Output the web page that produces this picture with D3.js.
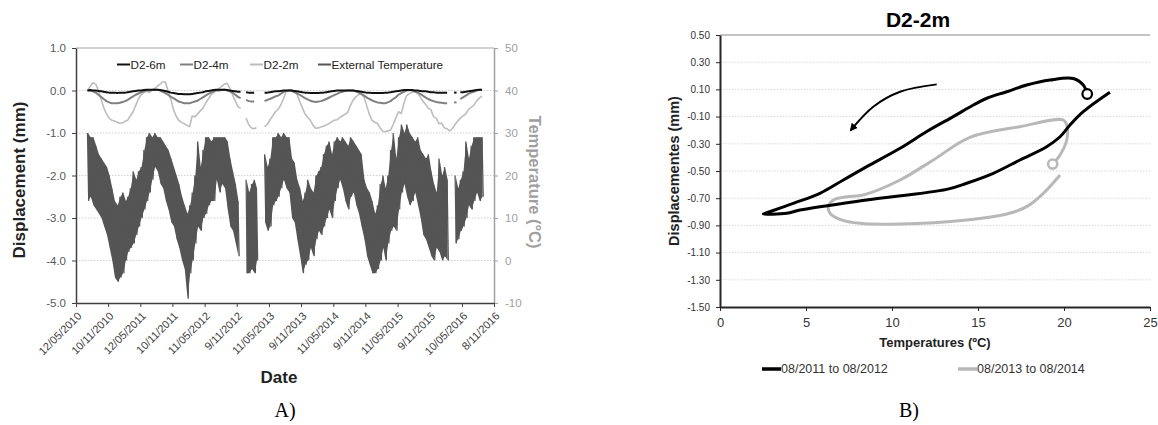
<!DOCTYPE html>
<html><head><meta charset="utf-8">
<script src="https://cdn.jsdelivr.net/npm/d3@7"></script>
<style>
body{margin:0;background:#fff}
svg{display:block}
text{font-family:"Liberation Sans",Arial,sans-serif}
</style>
</head><body>
<svg id="c" width="1158" height="425"></svg>
<script>
// ================= DATA : chart A =================
const xTickLabels = ["12/05/2010","10/11/2010","12/05/2011","10/11/2011","11/05/2012","9/11/2012","11/05/2013","9/11/2013","11/05/2014","9/11/2014","11/05/2015","9/11/2015","10/05/2016","8/11/2016"];
const dispTicks = [1,0,-1,-2,-3,-4,-5];
const tempTicks = [50,40,30,20,10,0,-10];
const seriesNamesA = ["D2-6m","D2-4m","D2-2m","External Temperature"];

// half-month samples from 16/07/2010 to 01/09/2016 (1st and 16th of each month)
const tempHi = [
  30, 29,29, 27,25, 24,23, 22,20, 17,14,
  13,15, 16,14, 15,17, 21,19, 21,22, 26,29, 30,29, 30,29, 29,28, 27,26, 24,22, 20,18,
  15,13, 11,13, 16,20, 28,22, 26,29, 29,28, 29,29, 29,29, 29,28, 24,21, 18,14, null,null,
  19,16, 18,19, 17,null, null,25, 22,24, 29,29, 30,29, 30,29, 29,24, 23,19, 17,14, 16,19,
  17,16, 20,21, 22,25, 27,28, 25,28, 29,28, 29,28, 27,29, 28,27, 26,25, 19,17, 16,14,
  11,13, 18,20, 17,20, 26,30, 24,29, 32,30, 32,30, 29,28, 29,26, 25,24, 25,21, 18,16,
  24,20, 22,19, null,null, 20,17, 19,21, 28,24, 27,29, 29,29, 29
];
const tempLo = [
  14, 15,13, 12,11, 10,8, 6,3, 0,-4,
  -5,-4, -3,0, 2,3, 4,6, 8,10, 12,14, 16,19, 22,21, 18,17, 14,12, 9,8, 5,3,
  0,-2, -9,-3, 0,4, 8,7, 10,11, 13,14, 14,19, 16,18, 17,12, 8,7, 4,1, null,null,
  -3,-3, -2,-3, 0,null, null,9, 7,8, 13,14, 15,17, 19,17, 16,10, 9,5, 1,-3, -1,0,
  3,1, 5,7, 6,8, 10,12, 10,14, 17,19, 17,14, 12,15, 16,13, 11,8, 5,1, -1,-3,
  -3,-2, 0,3, 0,4, 7,8, 7,12, 16,18, 15,13, 14,16, 13,10, 6,5, 3,1, 0,3,
  2,0, 1,0, null,null, 4,5, 7,8, 10,13, 12,14, 16,14, 15
];
const d2_6m = [
  0.0, 0.01,0.0, 0.0,-0.01, -0.02,-0.03, -0.04,-0.05, -0.05,-0.05,
  -0.06,-0.05, -0.05,-0.05, -0.04,-0.03, -0.02,-0.01, 0.0,0.0, 0.01,0.02, 0.02,0.02, 0.02,0.02, 0.01,0.0, -0.01,-0.03, -0.05,-0.06, -0.07,-0.08,
  -0.08,-0.09, -0.09,-0.09, -0.08,-0.07, -0.06,-0.05, -0.04,-0.02, -0.01,0.0, 0.01,0.02, 0.02,0.02, 0.02,0.01, 0.0,-0.01, -0.02,-0.03, -0.03,null,
  -0.04,-0.05, -0.05,-0.05, null,null, null,-0.05, -0.05,-0.04, -0.03,-0.02, -0.02,-0.01, 0.0,0.0, 0.0,0.0, -0.01,-0.02, -0.03,-0.04, -0.05,-0.05,
  -0.06,-0.06, -0.06,-0.06, -0.05,-0.05, -0.04,-0.03, -0.02,-0.01, 0.0,0.0, 0.0,0.0, 0.0,0.0, 0.0,-0.01, -0.02,-0.03, -0.04,-0.05, -0.05,-0.06,
  -0.06,-0.06, -0.06,-0.06, -0.05,-0.05, -0.04,-0.03, -0.02,-0.01, 0.0,0.01, 0.01,0.01, 0.01,0.0, 0.0,-0.01, -0.02,-0.02, -0.03,-0.04, -0.04,-0.05,
  -0.05,-0.05, -0.05,-0.05, null,null, -0.05,null, -0.04,-0.04, -0.03,-0.02, -0.01,0.0, 0.01,0.02, 0.02
];
const d2_4m = [
  0.0, 0.0,-0.02, -0.05,-0.1, -0.15,-0.2, -0.25,-0.28, -0.3,-0.3,
  -0.3,-0.29, -0.27,-0.25, -0.22,-0.18, -0.14,-0.1, -0.07,-0.04, -0.02,0.0, 0.0,0.01, 0.02,0.02, 0.0,-0.03, -0.06,-0.1, -0.15,-0.18, -0.22,-0.26,
  -0.28,-0.3, -0.3,-0.3, -0.28,-0.26, -0.24,-0.2, -0.16,-0.12, -0.08,-0.05, -0.02,0.0, 0.0,0.01, 0.02,0.0, -0.02,-0.05, -0.1,-0.15, -0.18,null,
  -0.22,-0.25, -0.26,-0.26, null,null, null,-0.25, -0.22,-0.2, -0.17,-0.14, -0.12,-0.08, -0.04,-0.01, 0.0,0.0, -0.03,-0.06, -0.1,-0.14, -0.18,-0.21,
  -0.24,-0.26, -0.27,-0.26, -0.25,-0.23, -0.2,-0.17, -0.14,-0.11, -0.08,-0.05, -0.03,-0.01, 0.0,0.0, 0.0,-0.02, -0.05,-0.08, -0.12,-0.16, -0.2,-0.23,
  -0.26,-0.28, -0.29,-0.3, -0.3,-0.28, -0.25,-0.2, -0.16,-0.1, -0.06,-0.03, 0.0,0.01, 0.0,-0.02, -0.05,-0.08, -0.12,-0.16, -0.2,-0.23, -0.25,-0.27,
  -0.28,-0.29, -0.3,-0.3, null,null, -0.28,null, -0.2,-0.16, -0.12,-0.08, -0.05,-0.03, 0.0,0.01, 0.02
];
const d2_2m = [
  0.0, 0.1,0.18, 0.15,0.0, -0.2,-0.4, -0.55,-0.65, -0.7,-0.72,
  -0.75,-0.77, -0.76,-0.72, -0.7,-0.6, -0.5,-0.35, -0.2,-0.1, -0.05,-0.02, -0.05,0.0, 0.05,0.1, 0.15,0.2, 0.2,0.0, -0.2,-0.45, -0.6,-0.7,
  -0.75,-0.78, -0.82,-0.85, -0.6,-0.62, -0.55,-0.48, -0.42,-0.3, -0.2,-0.1, -0.05,0.0, 0.05,0.1, 0.15,0.17, 0.05,-0.1, -0.25,-0.38, -0.42,null,
  -0.65,-0.8, -0.88,-0.9, -0.87,null, null,-0.85, -0.8,-0.7, -0.6,-0.5, -0.45,-0.35, -0.2,-0.03, 0.01,-0.02, -0.05,-0.08, -0.25,-0.4, -0.55,-0.63,
  -0.7,-0.82, -0.89,-0.88, -0.86,-0.84, -0.81,-0.78, -0.74,-0.7, -0.69,-0.64, -0.6,-0.56, -0.52,-0.35, -0.22,-0.15, -0.1,-0.07, -0.15,-0.35, -0.55,-0.7,
  -0.75,-0.77, -0.88,-0.96, -0.97,-0.95, -0.93,-0.8, -0.65,-0.5, -0.54,-0.3, -0.12,-0.08, -0.04,-0.03, -0.06,-0.15, -0.25,-0.32, -0.42,-0.45, -0.62,-0.65,
  -0.78,-0.77, -0.88,-0.9, -0.95,-0.9, -0.8,-0.72, -0.65,-0.6, -0.55,-0.45, -0.4,-0.35, -0.25,-0.18, -0.13
];

// ================= DATA : chart B =================
const titleB = "D2-2m";
const xTicksB = [0,5,10,15,20,25];
const yTicksB = [0.5,0.3,0.1,-0.1,-0.3,-0.5,-0.7,-0.9,-1.1,-1.3,-1.5];
const seriesNamesB = ["08/2011 to 08/2012","08/2013 to 08/2014"];
const loop1T = [21.35,21.12,20.54,19.19,17.83,16.67,15.51,14.73,13.56,12.02,10.47,8.53,7.17,5.81,4.26,2.72,2.52,3.88,4.65,8.53,13.18,14.34,15.89,17.44,18.99,19.77,20.35,21.12,22.67];
const loop1D = [0.066,0.132,0.18,0.169,0.132,0.083,0.035,-0.015,-0.10,-0.21,-0.333,-0.468,-0.566,-0.664,-0.738,-0.807,-0.816,-0.811,-0.787,-0.713,-0.635,-0.59,-0.517,-0.419,-0.321,-0.248,-0.162,-0.064,0.079];
const loop2T = [19.34,19.77,20.16,20.17,19.96,17.44,14.53,12.4,10.47,8.33,7.37,6.59,6.3,6.4,6.98,8.14,10.47,14.34,16.67,17.83,18.8,19.77];
const loop2D = [-0.449,-0.382,-0.272,-0.169,-0.125,-0.174,-0.252,-0.419,-0.566,-0.676,-0.689,-0.713,-0.762,-0.811,-0.855,-0.885,-0.89,-0.86,-0.816,-0.762,-0.664,-0.529];
const arrowT = [12.6,10.47,8.91,7.6];
const arrowD = [0.137,0.083,-0.027,-0.2];

// ================= DRAW =================
const svg = d3.select("#c");
svg.append("rect").attr("width",1158).attr("height",425).attr("fill","#fff");
const FF = "Liberation Sans, Arial, sans-serif";

// ---------- chart A ----------
const parse = d3.timeParse("%d/%m/%Y");
const tickDates = xTickLabels.map(parse);
const slotDates = [];
for (let y=2010; y<=2016; y++) for (let m=0; m<12; m++) for (const d of [1,16]) {
  const dt = new Date(y,m,d);
  if (dt >= new Date(2010,6,16) && dt <= new Date(2016,8,1)) slotDates.push(dt);
}
const xA = d3.scaleTime().domain([tickDates[0], tickDates[tickDates.length-1]]).range([76,494]);
const yA = d3.scaleLinear().domain([-5,1]).range([303,48]);
const yT = d3.scaleLinear().domain([-10,50]).range([303,48]);

const gA = svg.append("g");
gA.selectAll("line.grid").data(dispTicks.filter(d=>d>-5 && d<1)).join("line")
  .attr("x1",76).attr("x2",494).attr("y1",d=>yA(d)).attr("y2",d=>yA(d))
  .attr("stroke","#d0d0d0").attr("stroke-dasharray","1.5,1.5");
gA.append("line").attr("x1",76).attr("x2",494).attr("y1",yA(1)).attr("y2",yA(1)).attr("stroke","#a6a6a6").attr("stroke-width",1.2);

// left axis
const axL = gA.append("g").attr("transform","translate(76,0)")
  .call(d3.axisLeft(yA).tickValues(dispTicks).tickFormat(d=>d.toFixed(1)).tickSize(4).tickSizeOuter(0).tickPadding(6));
axL.select(".domain").attr("stroke","#404040").attr("stroke-width",1.5);
axL.selectAll(".tick line").attr("stroke","#404040");
axL.selectAll("text").attr("font-size","11.5px").attr("fill","#595959").style("font-family",FF);

// right axis
const axR = gA.append("g").attr("transform","translate(494,0)")
  .call(d3.axisRight(yT).tickValues(tempTicks).tickFormat(d=>String(d)).tickSize(4).tickSizeOuter(0).tickPadding(7));
axR.select(".domain").attr("stroke","#a0a0a0").attr("stroke-width",1.5);
axR.selectAll(".tick line").attr("stroke","#a0a0a0");
axR.selectAll("text").attr("font-size","11.5px").attr("fill","#a0a0a0").style("font-family",FF);

// bottom axis
const axB = gA.append("g").attr("transform","translate(0,303)")
  .call(d3.axisBottom(xA).tickValues(tickDates).tickFormat((d,i)=>xTickLabels[i]).tickSize(4).tickSizeOuter(0));
axB.select(".domain").attr("stroke","#404040").attr("stroke-width",1.5);
axB.selectAll(".tick line").attr("stroke","#404040");
axB.selectAll("text").attr("font-size","11px").attr("fill","#404040")
  .attr("x",0).attr("y",0).attr("dy","0.35em").attr("text-anchor","end")
  .attr("transform","translate(3,11) rotate(-45)")
  .style("font-family",FF);

// displacement series
const lineA = d3.line().defined(p=>p.v!=null).x(p=>xA(p.t)).y(p=>yA(p.v));
function seriesPts(arr){ return slotDates.map((t,i)=>({t, v: arr[i]})); }
const dispSeries = [
  {arr:d2_2m, color:"#bdbdbd", w:1.6},
  {arr:d2_4m, color:"#808080", w:2},
  {arr:d2_6m, color:"#111111", w:2}
];
dispSeries.forEach(s=>{
  const pts = seriesPts(s.arr);
  gA.append("path").attr("d",lineA(pts)).attr("fill","none").attr("stroke",s.color).attr("stroke-width",s.w).attr("stroke-linejoin","round");
  pts.forEach((p,i)=>{
    if (p.v!=null && (i===0 || pts[i-1].v==null) && (i===pts.length-1 || pts[i+1].v==null)) {
      gA.append("line").attr("x1",xA(p.t)-1).attr("x2",xA(p.t)+1.5).attr("y1",yA(p.v)).attr("y2",yA(p.v))
        .attr("stroke",s.color).attr("stroke-width",s.w);
    }
  });
});

// temperature: band between half-month highs and lows, plus zigzag trace for the spikes
const tempBand = slotDates.map((t,i)=>({t: d3.timeDay.offset(t,3), hi: tempHi[i], lo: tempLo[i]}));
const areaT = d3.area().defined(p=>p.hi!=null && p.lo!=null)
  .x(p=>xA(p.t)).y0(p=>yT(p.lo)).y1(p=>yT(p.hi));
gA.append("path").attr("d",areaT(tempBand)).attr("fill","#555555");
const tempPts = [];
slotDates.forEach((t,i)=>{
  tempPts.push({t, v: tempHi[i]});
  tempPts.push({t: d3.timeDay.offset(t,7), v: tempLo[i]});
});
const lineT = d3.line().defined(p=>p.v!=null).x(p=>xA(p.t)).y(p=>yT(p.v));
gA.append("path").attr("d",lineT(tempPts)).attr("fill","none").attr("stroke","#555555").attr("stroke-width",1.2).attr("stroke-linejoin","miter");

// legend A
const legA = [
  {name:seriesNamesA[0], color:"#111111", x:117},
  {name:seriesNamesA[1], color:"#808080", x:180},
  {name:seriesNamesA[2], color:"#bdbdbd", x:250},
  {name:seriesNamesA[3], color:"#555555", x:318}
];
legA.forEach(l=>{
  gA.append("line").attr("x1",l.x).attr("x2",l.x+13).attr("y1",64.5).attr("y2",64.5).attr("stroke",l.color).attr("stroke-width",2);
  gA.append("text").attr("x",l.x+13.5).attr("y",68.5).attr("font-size","11.7px").attr("fill","#222").text(l.name);
});

// titles A
gA.append("text").attr("transform","translate(25,180) rotate(-90)").attr("text-anchor","middle")
  .attr("font-size","17px").attr("font-weight","bold").attr("fill","#222").text("Displacement (mm)");
gA.append("text").attr("transform","translate(529,182) rotate(90)").attr("text-anchor","middle")
  .attr("font-size","16.5px").attr("font-weight","bold").attr("fill","#a0a0a0").text("Temperature (°C)");
gA.append("text").attr("x",279).attr("y",383).attr("text-anchor","middle")
  .attr("font-size","17px").attr("font-weight","bold").attr("fill","#222").text("Date");
gA.append("text").attr("x",285).attr("y",417).attr("text-anchor","middle")
  .attr("font-size","20px").attr("fill","#000").style("font-family","Liberation Serif, Times New Roman, serif").text("A)");

// ---------- chart B ----------
const xB = d3.scaleLinear().domain([0,25]).range([720,1150]);
const yB = d3.scaleLinear().domain([-1.5,0.5]).range([307,35]);
const gB = svg.append("g");
gB.selectAll("line.grid").data(yTicksB.filter(d=>d>-1.5 && d<0.5)).join("line")
  .attr("x1",720).attr("x2",1150).attr("y1",d=>yB(d)).attr("y2",d=>yB(d))
  .attr("stroke","#d9d9d9").attr("stroke-dasharray","1.5,1.5");
gB.append("line").attr("x1",720).attr("x2",1150).attr("y1",yB(0.5)).attr("y2",yB(0.5)).attr("stroke","#8c8c8c").attr("stroke-width",1.2);

const axLB = gB.append("g").attr("transform","translate(720,0)")
  .call(d3.axisLeft(yB).tickValues(yTicksB).tickFormat(d=>d.toFixed(2)).tickSize(4).tickSizeOuter(0).tickPadding(6));
axLB.select(".domain").attr("stroke","#262626").attr("stroke-width",2);
axLB.selectAll(".tick line").attr("stroke","#262626");
axLB.selectAll("text").attr("font-size","10px").attr("fill","#333").style("font-family",FF);

const axBB = gB.append("g").attr("transform","translate(0,307)")
  .call(d3.axisBottom(xB).tickValues(xTicksB).tickFormat(d=>String(d)).tickSize(4).tickSizeOuter(0).tickPadding(7));
axBB.select(".domain").attr("stroke","#262626").attr("stroke-width",2);
axBB.selectAll(".tick line").attr("stroke","#262626");
axBB.selectAll("text").attr("font-size","13px").attr("fill","#333").style("font-family",FF);

const lineB = d3.line().x(p=>xB(p[0])).y(p=>yB(p[1])).curve(d3.curveCatmullRom.alpha(0.5));
const loop1 = loop1T.map((t,i)=>[t,loop1D[i]]);
const loop2 = loop2T.map((t,i)=>[t,loop2D[i]]);
gB.append("path").attr("d",lineB(loop2)).attr("fill","none").attr("stroke","#b8b8b8").attr("stroke-width",3).attr("stroke-linejoin","round");
gB.append("path").attr("d",lineB(loop1)).attr("fill","none").attr("stroke","#000").attr("stroke-width",3).attr("stroke-linejoin","round");
gB.append("circle").attr("cx",xB(loop1[0][0])).attr("cy",yB(loop1[0][1])).attr("r",4.8).attr("fill","#fff").attr("stroke","#000").attr("stroke-width",2.2);
gB.append("circle").attr("cx",xB(loop2[0][0])).attr("cy",yB(loop2[0][1])).attr("r",4.6).attr("fill","#fff").attr("stroke","#b8b8b8").attr("stroke-width",2.6);

// arrow
const defs = svg.append("defs");
defs.append("marker").attr("id","ah").attr("viewBox","0 0 10 10").attr("refX",8).attr("refY",5)
  .attr("markerWidth",4).attr("markerHeight",4).attr("orient","auto")
  .append("path").attr("d","M0,0L10,5L0,10z").attr("fill","#000");
const arrowPts = arrowT.map((t,i)=>[t,arrowD[i]]);
gB.append("path").attr("d",lineB(arrowPts)).attr("fill","none").attr("stroke","#000").attr("stroke-width",2).attr("marker-end","url(#ah)");

// titles B
gB.append("text").attr("x",918).attr("y",27).attr("text-anchor","middle").attr("font-size","21px").attr("font-weight","bold").attr("fill","#000").text(titleB);
gB.append("text").attr("transform","translate(678.5,171) rotate(-90)").attr("text-anchor","middle")
  .attr("font-size","14.5px").attr("font-weight","bold").attr("fill","#222").text("Displacementes (mm)");
gB.append("text").attr("x",935).attr("y",346.5).attr("text-anchor","middle").attr("font-size","13px").attr("font-weight","bold").attr("fill","#222").text("Temperatures (ºC)");

// legend B
const legB = [{name:seriesNamesB[0], color:"#000", x:762},{name:seriesNamesB[1], color:"#b8b8b8", x:958}];
legB.forEach(l=>{
  gB.append("line").attr("x1",l.x).attr("x2",l.x+19).attr("y1",369).attr("y2",369).attr("stroke",l.color).attr("stroke-width",3.5);
  gB.append("text").attr("x",l.x+19).attr("y",373).attr("font-size","12.5px").attr("fill","#333").text(l.name);
});
gB.append("text").attr("x",909).attr("y",417).attr("text-anchor","middle")
  .attr("font-size","20px").attr("fill","#000").style("font-family","Liberation Serif, Times New Roman, serif").text("B)");
</script>
</body></html>
